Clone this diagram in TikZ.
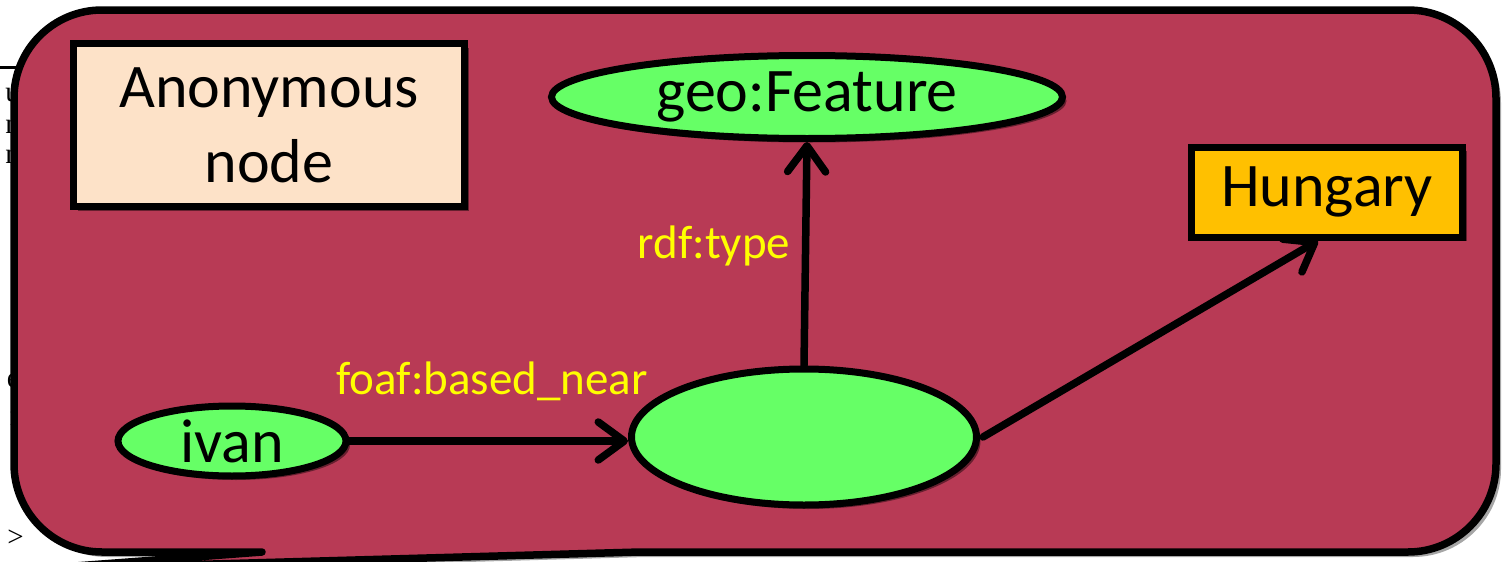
\documentclass[tikz,border=0pt]{standalone}
\usepackage{fontspec}
\setmainfont{Carlito}
\newfontfamily\backserif{Liberation Serif}
\usetikzlibrary{shapes.geometric,arrows.meta,shadows}

\definecolor{calloutred}{RGB}{184,58,85}
\definecolor{resgreen}{RGB}{102,255,102}
\definecolor{peach}{RGB}{253,226,200}
\definecolor{amber}{RGB}{255,192,0}
\definecolor{labelyellow}{RGB}{255,255,0}

\newcommand\bigtext{\fontsize{62}{75}\selectfont}
\newcommand\labeltext{\fontsize{47}{56}\selectfont}
\newcommand\backsize{\fontsize{29}{32}\selectfont}

\tikzset{
  outline/.style={draw=black, line width=7pt},
  softshadow/.style={drop shadow={shadow xshift=4pt, shadow yshift=-4pt,
      opacity=0.45, fill=black}},
  resnode/.style={ellipse, outline, fill=resgreen, inner sep=0pt,
      font=\bigtext, softshadow},
  boxnode/.style={rectangle, outline, inner sep=0pt, font=\bigtext,
      align=center, softshadow},
  edgelabel/.style={text=labelyellow, font=\labeltext, inner sep=0pt},
  conn/.style={line width=7.5pt, line cap=round,
      -{Straight Barb[length=26pt, width=38pt, round]}},
  backtext/.style={anchor=base east, font=\backserif\backsize, inner sep=0pt},
}

\begin{document}
\begin{tikzpicture}[x=1pt, y=-1pt]
  \useasboundingbox (0,0) rectangle (1505,562);

  % text of the page lying behind the callout
  \draw[line width=3pt] (0,67) -- (40,67);
  \node[backtext] (b1) at (20,101) {u};
  \node[backtext] (b2) at (20,133) {n};
  \node[backtext] (b3) at (20,163) {n};
  \node[backtext] (b4) at (19,232) {l};
  \node[backtext] (b6) at (20,338) {:};
  \node[backtext] (b7) at (20,387) {e};
  \node[backtext] (b8) at (20,425) {r};
  \node[backtext] (b9) at (19,464) {l};
  \node[backtext] (b10) at (24,546) {>};

  % callout with its pointer leaving the bottom edge
  \path[fill=calloutred, draw=black, line width=7.5pt, line join=round,
        drop shadow={shadow xshift=5pt, shadow yshift=-5pt, opacity=0.35, fill=black}]
    (262,552) -- (102,552)
      .. controls (53.4,552) and (14,512.6) .. (14,464)
      -- (14,98)
      .. controls (14,49.4) and (53.4,10) .. (102,10)
      -- (1408,10)
      .. controls (1456.6,10) and (1496,49.4) .. (1496,98)
      -- (1496,464)
      .. controls (1496,512.6) and (1456.6,552) .. (1408,552)
      -- (640,552) -- (35,569) -- cycle;

  % graph nodes
  \node[boxnode, fill=peach, minimum width=391pt, minimum height=163pt]
    (anon) at (269,125) {Anonymous\\node};
  \node[resnode, minimum width=511pt, minimum height=83pt]
    (geo) at (807,97) {geo:Feature};
  \node[boxnode, fill=amber, minimum width=271pt, minimum height=90pt]
    (hungary) at (1327,192) {Hungary};
  \node[resnode, minimum width=228pt, minimum height=70pt]
    (ivan) at (232,441) {ivan};
  \node[resnode, minimum width=345pt, minimum height=136pt]
    (blank) at (804,437) {};

  % properties
  \draw[conn] (ivan.east) -- (ivan.east -| blank.west);
  \draw[conn] (blank.north) -- (geo.south);
  \draw[conn] ([xshift=3pt]blank.east) -- ([xshift=-9pt]hungary.south);

  \node[edgelabel] (ltype) at (714,246) {rdf:type};
  \node[edgelabel] (lnear) at (492,381) {foaf:based\_near};
\end{tikzpicture}
\end{document}
